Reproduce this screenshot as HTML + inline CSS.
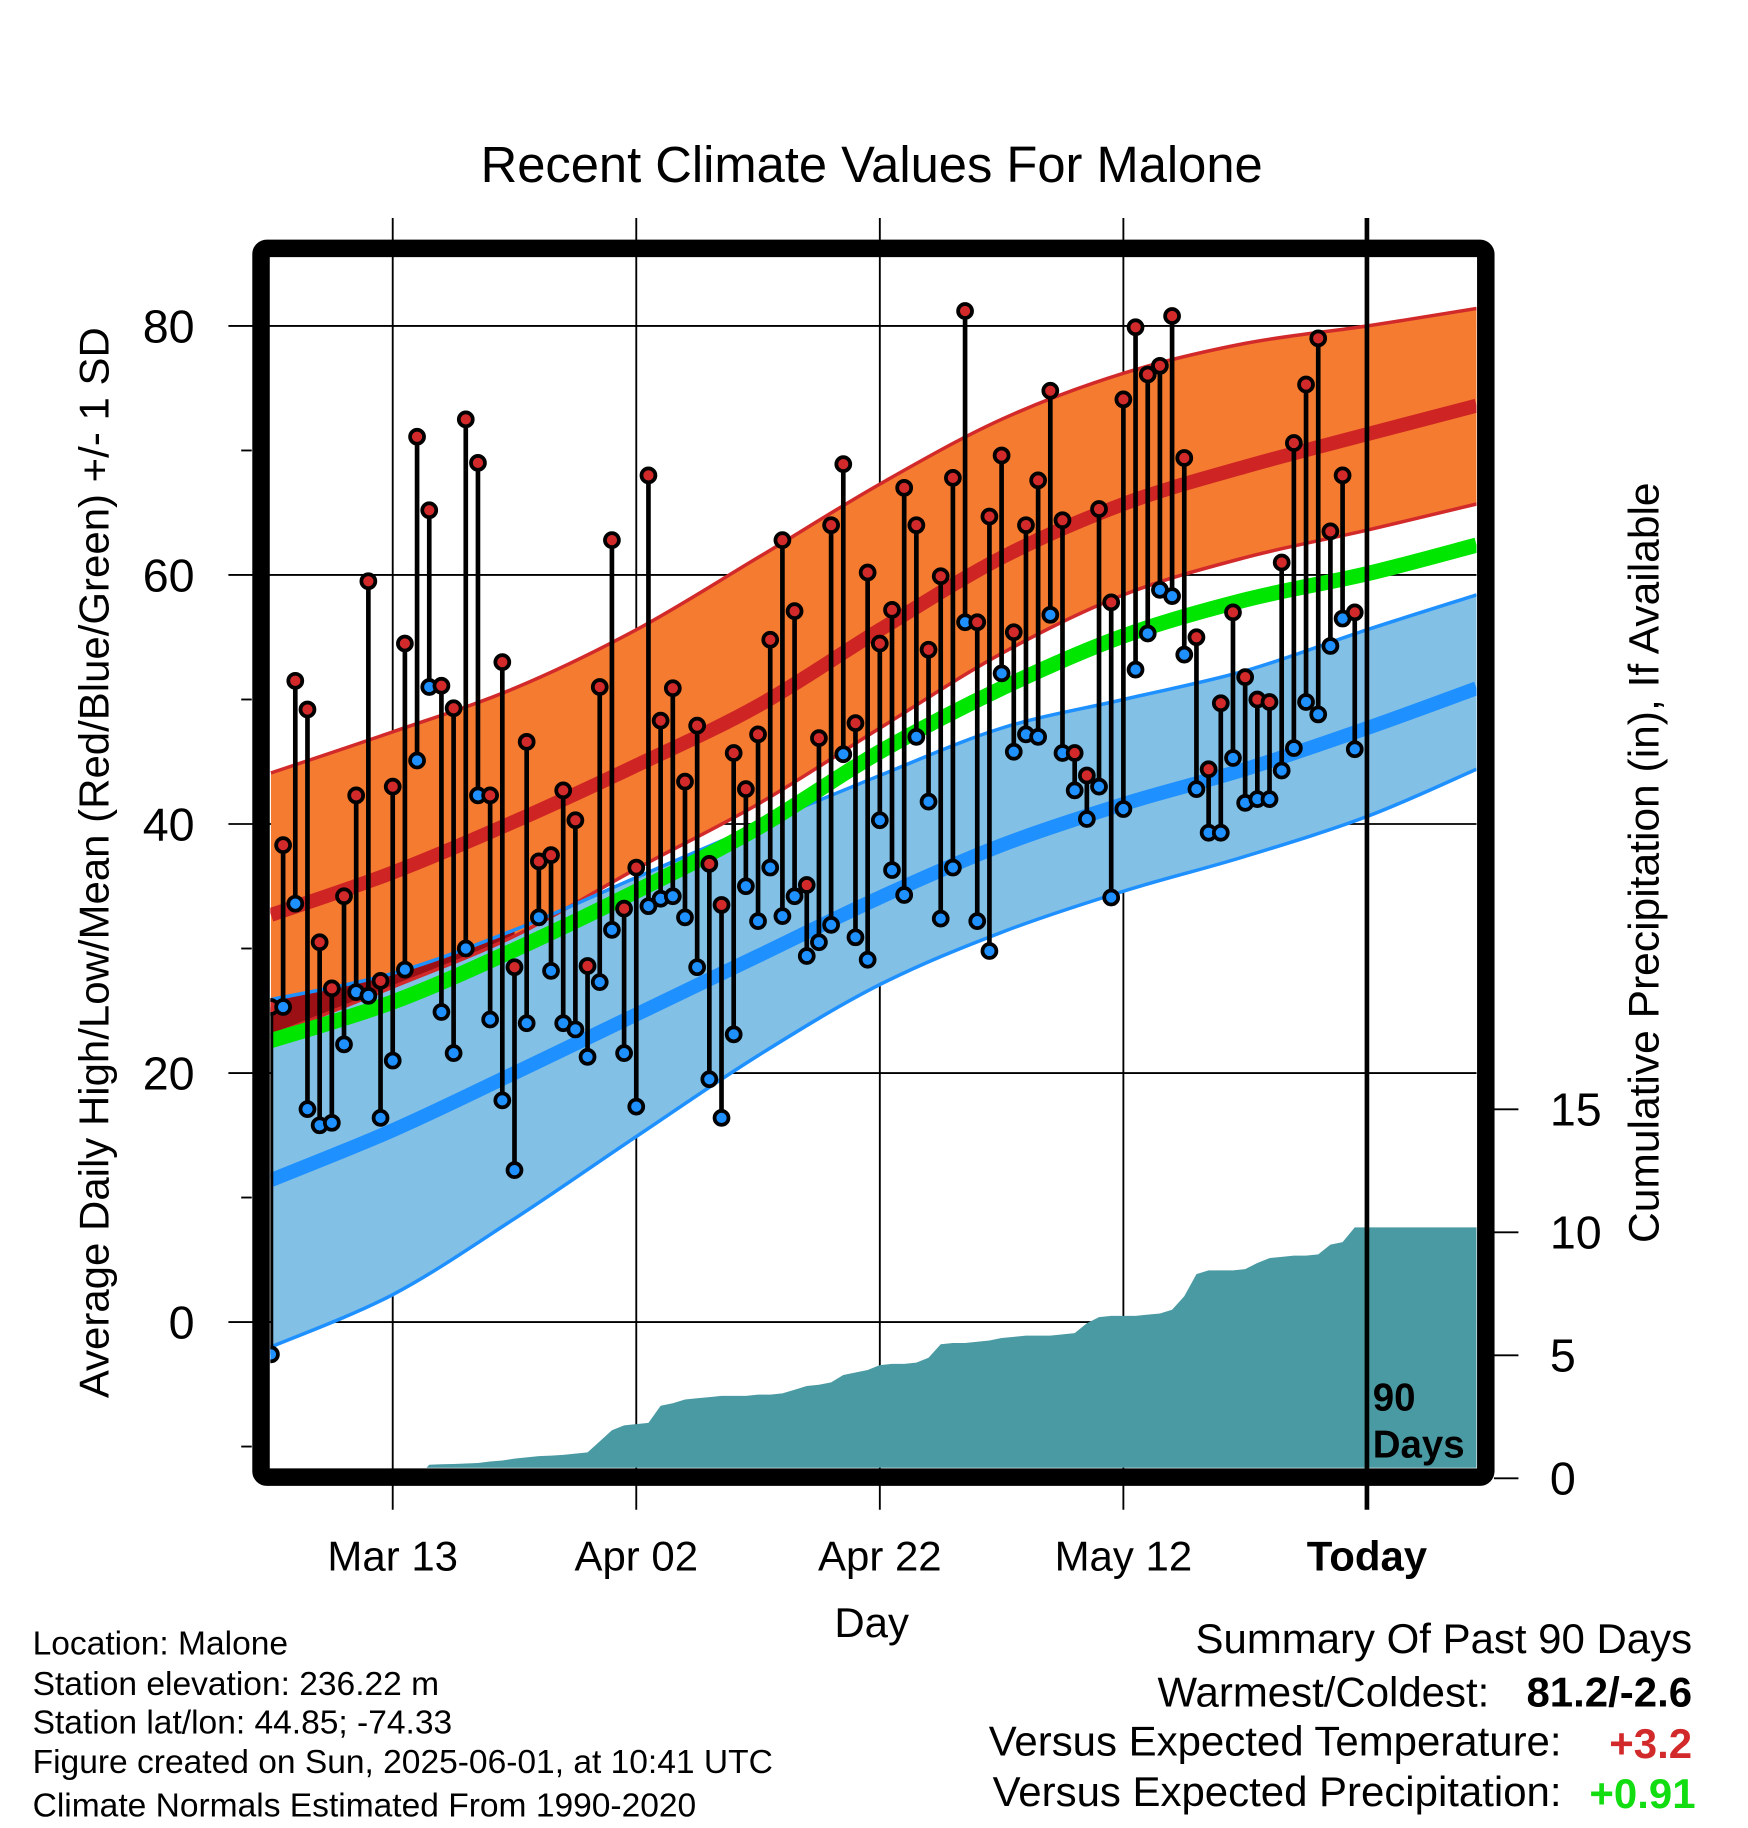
<!DOCTYPE html>
<html><head><meta charset="utf-8">
<style>
html,body{margin:0;padding:0;background:#fff;}
svg{display:block;font-family:"Liberation Sans",Arial,sans-serif;}
</style></head>
<body>
<svg id="chart" width="1748" height="1828" viewBox="0 0 1500 1568" preserveAspectRatio="none" xmlns="http://www.w3.org/2000/svg">
<defs><clipPath id="plotclip"><rect x="232" y="220" width="1035" height="1039"/></clipPath></defs>
<text x="748" y="156" font-size="43.5" text-anchor="middle">Recent Climate Values For Malone</text>
<g id="grid"></g>
<g id="plot" clip-path="url(#plotclip)"></g>
<g id="axes"></g>
<rect x="224" y="213" width="1051" height="1054" fill="none" stroke="#000" stroke-width="15" rx="5"/>
<text transform="translate(93,740) rotate(-90)" font-size="36" text-anchor="middle">Average Daily High/Low/Mean (Red/Blue/Green) +/- 1 SD</text>
<text transform="translate(1423,740) rotate(-90)" font-size="36.5" text-anchor="middle">Cumulative Precipitation (in), If Available</text>
<text x="748" y="1404" font-size="36" text-anchor="middle">Day</text>
<text x="1178" y="1210" font-size="33" font-weight="bold">90</text>
<text x="1178" y="1250" font-size="33" font-weight="bold">Days</text>
<g font-size="28.8">
<text x="28" y="1419">Location: Malone</text>
<text x="28" y="1454">Station elevation: 236.22 m</text>
<text x="28" y="1487">Station lat/lon: 44.85; -74.33</text>
<text x="28" y="1521">Figure created on Sun, 2025-06-01, at 10:41 UTC</text>
<text x="28" y="1558">Climate Normals Estimated From 1990-2020</text>
</g>
<g font-size="36">
<text x="1452" y="1418" text-anchor="end">Summary Of Past 90 Days</text>
<text x="1278" y="1464" text-anchor="end">Warmest/Coldest:</text>
<text x="1452" y="1464" text-anchor="end" font-weight="bold">81.2/-2.6</text>
<text x="1340" y="1506" text-anchor="end">Versus Expected Temperature:</text>
<text x="1452" y="1508" text-anchor="end" font-weight="bold" fill="#d22a2a">+3.2</text>
<text x="1340" y="1549" text-anchor="end">Versus Expected Precipitation:</text>
<text x="1455" y="1551" text-anchor="end" font-weight="bold" fill="#11dd11">+0.91</text>
</g>
</svg>
<script>
// ---- data ----
const normDays = [0,10,20,30,40,50,60,70,80,90,99];
const meanHigh = [32.7,36.1,40.2,44.7,49.5,55.6,61.4,65.7,68.7,71.3,73.6];
const highUpper = [44.1,47.4,50.9,55.6,61.4,67.3,72.5,76.2,78.6,80.0,81.4];
const highLower = [23.0,26.9,31.0,36.4,41.6,47.7,53.7,58.4,61.4,63.6,65.7];
const meanAvg = [22.6,25.7,29.9,34.6,39.7,45.8,50.9,55.1,58.0,60.1,62.4];
const lowUpper = [25.9,28.0,31.5,35.7,39.9,43.9,47.7,50.0,52.3,55.6,58.4];
const meanLow = [11.4,15.4,20.0,24.7,29.4,34.1,38.3,41.6,44.4,47.7,50.9];
const lowLower = [-2.0,2.2,8.3,14.9,21.4,27.1,31.3,34.6,37.4,40.6,44.4];
const dailyHigh = [25.3,38.3,51.5,49.2,30.5,26.8,34.2,42.3,59.5,27.4,43.0,54.5,71.1,65.2,51.1,49.3,72.5,69.0,42.3,53.0,28.5,46.6,37.0,37.5,42.7,40.3,28.6,51.0,62.8,33.2,36.5,68.0,48.3,50.9,43.4,47.9,36.8,33.5,45.7,42.8,47.2,54.8,62.8,57.1,35.1,46.9,64.0,68.9,48.1,60.2,54.5,57.2,67.0,64.0,54.0,59.9,67.8,81.2,56.2,64.7,69.6,55.4,64.0,67.6,74.8,64.4,45.7,43.9,65.3,57.8,74.1,79.9,76.1,76.8,80.8,69.4,55.0,44.4,49.7,57.0,51.8,50.0,49.8,61.0,70.6,75.3,79.0,63.5,68.0,57.0];
const dailyLow = [-2.6,25.3,33.6,17.1,15.8,16.0,22.3,26.5,26.2,16.4,21.0,28.3,45.1,51.0,24.9,21.6,30.0,42.3,24.3,17.8,12.2,24.0,32.5,28.2,24.0,23.5,21.3,27.3,31.5,21.6,17.3,33.4,34.0,34.2,32.5,28.5,19.5,16.4,23.1,35.0,32.2,36.5,32.6,34.2,29.4,30.5,31.9,45.6,30.9,29.1,40.3,36.3,34.3,47.0,41.8,32.4,36.5,56.2,32.2,29.8,52.1,45.8,47.2,47.0,56.8,45.7,42.7,40.4,43.0,34.1,41.2,52.4,55.3,58.8,58.3,53.6,42.8,39.3,39.3,45.3,41.7,42.0,42.0,44.3,46.1,49.8,48.8,54.3,56.5,46.0];
const cumPrecip = [0,0,0,0,0,0,0,0,0,0,0,0,0,0.55,0.57,0.58,0.6,0.62,0.68,0.72,0.8,0.85,0.9,0.92,0.95,1.0,1.05,1.5,1.95,2.15,2.2,2.25,2.95,3.05,3.2,3.25,3.3,3.35,3.35,3.35,3.4,3.4,3.45,3.6,3.75,3.8,3.9,4.2,4.3,4.4,4.6,4.65,4.65,4.7,4.9,5.45,5.5,5.5,5.55,5.6,5.7,5.75,5.8,5.8,5.8,5.85,5.9,6.3,6.55,6.6,6.6,6.6,6.65,6.7,6.85,7.4,8.3,8.45,8.45,8.45,8.5,8.75,8.95,9.0,9.05,9.05,9.1,9.5,9.6,10.2];
const xTickDays = [10,30,50,70,90];
const xTickLabels = ["Mar 13","Apr 02","Apr 22","May 12","Today"];
const yTicks = [0,20,40,60,80];
const yMinorTicks = [-10,10,30,50,70];
const pTicks = [0,5,10,15];

// ---- scales ----
const xS = d => 232.5 + d*10.45;
const yS = v => 1134 - v*10.68;
const pS = v => 1268 - v*21.1;
const NS = "http://www.w3.org/2000/svg";
function mk(tag, parent, attrs){const e=document.createElementNS(NS,tag);for(const k in attrs)e.setAttribute(k,attrs[k]);parent.appendChild(e);return e;}
function pts(days, vals){return days.map((d,i)=>[xS(d),yS(vals[i])]);}
function smooth(p){let s="";for(let i=0;i<p.length-1;i++){const p0=p[i-1]||p[i],p1=p[i],p2=p[i+1],p3=p[i+2]||p2;
 const c1=[p1[0]+(p2[0]-p0[0])/6,p1[1]+(p2[1]-p0[1])/6],c2=[p2[0]-(p3[0]-p1[0])/6,p2[1]-(p3[1]-p1[1])/6];
 s+=(i===0?"M"+p1[0]+","+p1[1]:"")+" C"+c1+" "+c2+" "+p2;}return s;}
function band(up, lo){const a=pts(normDays,up), b=pts(normDays,lo).reverse();return smooth(a)+" L"+b[0]+smooth(b).replace(/^M[^ ]+/,"")+" Z";}

const grid=document.getElementById('grid'), plot=document.getElementById('plot'), axes=document.getElementById('axes');

let e;
e=mk('path',plot,{d:band(lowUpper,lowLower),fill:"#82c0e6"});

e=mk('path',plot,{d:band(highUpper,highLower),fill:"#f47b2f"});

const ovDays=normDays.slice(0,3);
const ovA=ovDays.map((d,i)=>[xS(d),yS(lowUpper[i])]), ovB=ovDays.map((d,i)=>[xS(d),yS(highLower[i])]).reverse();
e=mk('path',plot,{d:smooth(ovA)+" L"+ovB[0]+smooth(ovB).replace(/^M[^ ]+/,"")+" Z",fill:"#9b1015","fill-rule":"evenodd"});

[[highUpper,"#d22a2a",3,'high-upper-line'],[highLower,"#d22a2a",3,'high-lower-line'],[lowUpper,"#1e90ff",3,'low-upper-line'],[lowLower,"#1e90ff",3,'low-lower-line'],
 [meanHigh,"#cf2424",12,'mean-high-line'],[meanLow,"#1e90ff",12,'mean-low-line'],[meanAvg,"#00e600",13,'mean-avg-line']].forEach(c=>{
 const l=mk('path',plot,{d:smooth(pts(normDays,c[0])),fill:"none",stroke:c[1],"stroke-width":c[2]});
 
 
});

yTicks.forEach(v=>{
 const g=mk('line',grid,{x1:196,x2:1267,y1:yS(v),y2:yS(v),stroke:"#000","stroke-width":1.6});
 
 const t=mk('text',axes,{x:167,y:yS(v)+14,"font-size":40,"text-anchor":"end"});t.textContent=v;
 
});
yMinorTicks.forEach(v=>{
 const g=mk('line',axes,{x1:207,x2:216,y1:yS(v),y2:yS(v),stroke:"#000","stroke-width":1.6});
 
});
xTickDays.forEach((d,i)=>{
 const isToday=i===xTickDays.length-1;
 const g=mk('line',isToday?axes:grid,{x1:xS(d),x2:xS(d),y1:187,y2:1295,stroke:"#000","stroke-width":isToday?4:1.6});
 
 const t=mk('text',axes,{x:xS(d),y:1347,"font-size":36,"text-anchor":"middle","font-weight":isToday?"bold":"normal"});t.textContent=xTickLabels[i];
 
});
pTicks.forEach(v=>{
 const g=mk('line',axes,{x1:1282,x2:1303,y1:pS(v),y2:pS(v),stroke:"#000","stroke-width":1.6});
 
 const t=mk('text',axes,{x:1330,y:pS(v)+14,"font-size":40});t.textContent=v;
 
});

let pd="M"+xS(0)+","+pS(0);
cumPrecip.forEach((v,i)=>{pd+=" L"+xS(i)+","+pS(v);});
const last=cumPrecip[cumPrecip.length-1];
pd+=" L"+xS(99)+","+pS(last)+" L"+xS(99)+","+pS(0)+" Z";
e=mk('path',plot,{d:pd,fill:"#4a9aa3"});


dailyHigh.forEach((h,i)=>{
 const s=mk('line',plot,{x1:xS(i),x2:xS(i),y1:yS(h),y2:yS(dailyLow[i]),stroke:"#000","stroke-width":4});
 
});
dailyHigh.forEach((h,i)=>{
 const c1=mk('circle',plot,{cx:xS(i),cy:yS(dailyLow[i]),r:6,fill:"#1e90ff",stroke:"#000","stroke-width":3.2});
 
 const c2=mk('circle',plot,{cx:xS(i),cy:yS(h),r:6,fill:"#d22a2a",stroke:"#000","stroke-width":3.2});
 
});
</script>
</body></html>
